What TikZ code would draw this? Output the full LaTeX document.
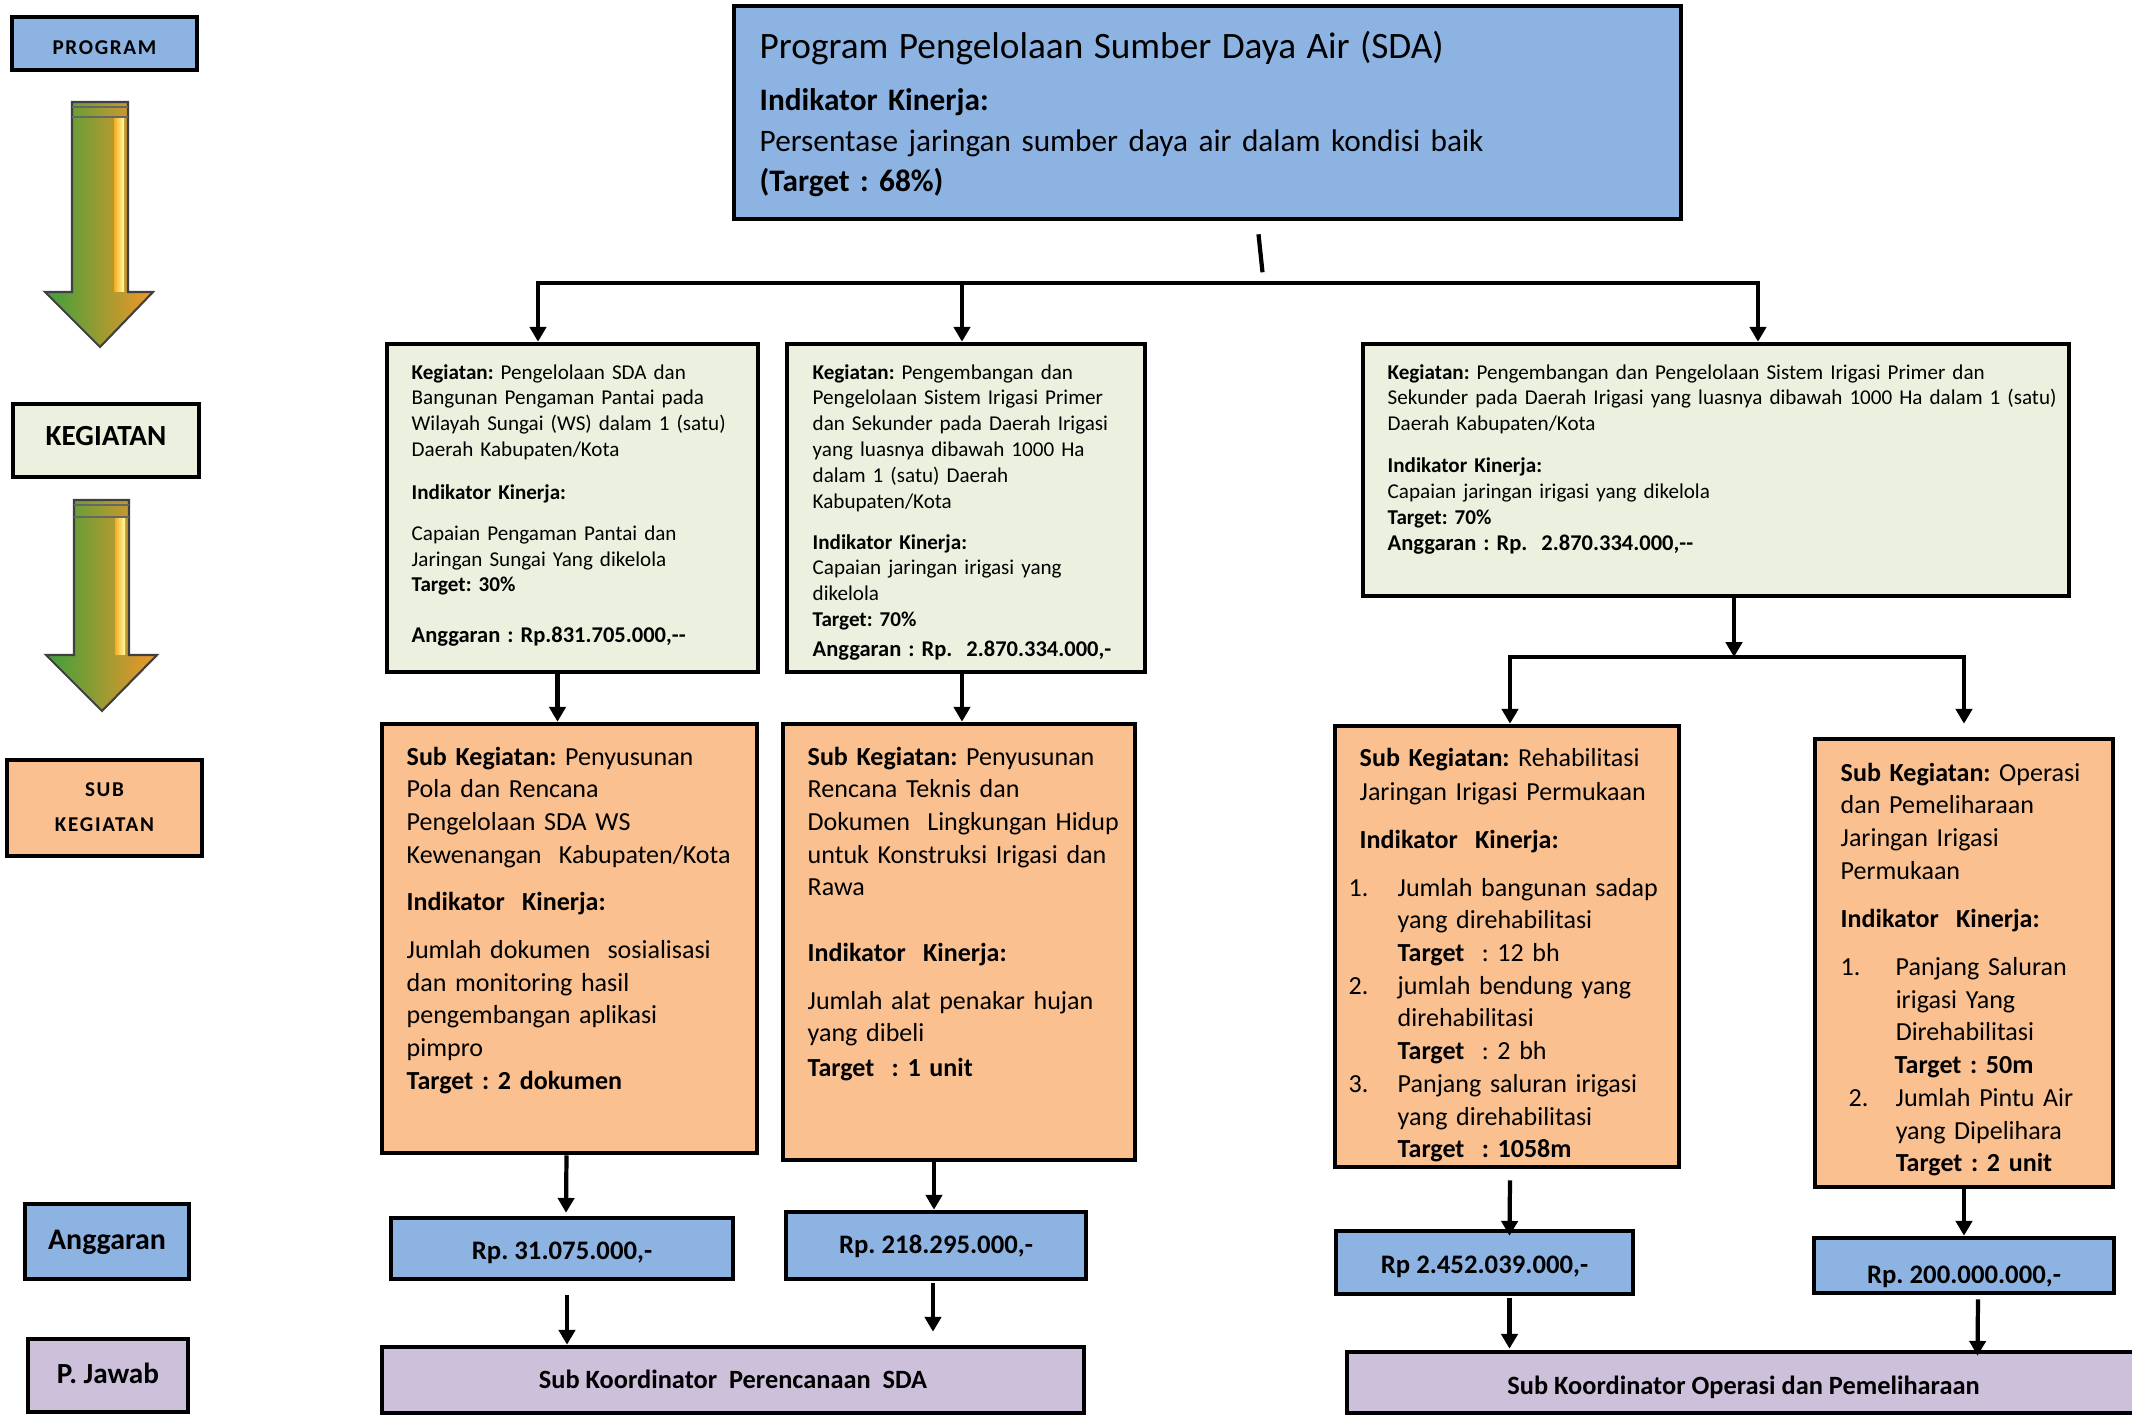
\documentclass[tikz,border=0pt]{standalone}
\usepackage{fontspec}
\setmainfont{Carlito}
\newfontfamily\widefont[LetterSpace=8]{Carlito}
\usetikzlibrary{arrows.meta,calc,fit}

\definecolor{progblue}{RGB}{141,179,226}
\definecolor{keggreen}{RGB}{235,241,222}
\definecolor{suborange}{RGB}{250,192,144}
\definecolor{pjpurple}{RGB}{204,192,218}
\definecolor{argreen}{RGB}{60,160,60}
\definecolor{arolive}{RGB}{185,165,70}
\definecolor{arorange}{RGB}{245,150,40}

\newcommand{\itm}[1]{\makebox[0.49cm][l]{#1}}
\newcommand{\angline}[1]{{\fontsize{6.4pt}{7.35pt}\selectfont\textbf{#1}}}

\tikzset{
  box/.style={draw=black, line width=1.3pt, inner sep=0pt},
  progbox/.style={box, fill=progblue},
  kegbox/.style={box, fill=keggreen},
  subbox/.style={box, fill=suborange},
  pjbox/.style={box, fill=pjpurple},
  lbl/.style={anchor=mid, inner sep=0pt},
  txt/.style={anchor=base west, align=left, inner sep=0pt},
  ktxt/.style={txt, text width=8cm, font=\fontsize{6.0pt}{7.35pt}\selectfont},
  stxt/.style={txt, text width=4cm, font=\fontsize{7.4pt}{9.3pt}\selectfont},
  angfont/.style={lbl, font=\fontsize{7.6pt}{9pt}\selectfont\bfseries},
  pjfont/.style={lbl, font=\fontsize{7.5pt}{9pt}\selectfont\bfseries},
  conn/.style={line width=1.2pt},
  arr/.style={conn, -{Triangle[width=4.6pt,length=4.2pt]}},
}

\begin{document}
\frenchspacing
\begin{tikzpicture}[x=0.01cm, y=-0.01cm]
\useasboundingbox (0,0) rectangle (2132,1415);

% left column
\node[progbox, fit={(12,17) (197,70)}] (lprog) {};
\node[kegbox, fit={(13,404) (199,477)}] (lkeg) {};
\node[subbox, fit={(7,760) (202,856)}] (lsub) {};
\node[progbox, fit={(25,1204) (189,1279)}] (lang) {};
\node[pjbox, fit={(28,1339) (188,1412)}] (lpj) {};
\node[lbl, font=\widefont\fontsize{6pt}{7pt}\selectfont\bfseries] (lprogt) at ($(lprog.center)+(0,3)$) {PROGRAM};
\node[lbl, font=\fontsize{8.3pt}{10pt}\selectfont\bfseries] (lkegt) at ($(lkeg.center)+(0,-3)$) {KEGIATAN};
\node[anchor=base, inner sep=0pt, text width=2cm, align=center, font=\widefont\fontsize{6pt}{10.2pt}\selectfont\bfseries] (lsubt) at (lsub.center |- 0,796) {SUB\\KEGIATAN};
\node[lbl, font=\fontsize{8.5pt}{10pt}\selectfont\bfseries] (langt) at (lang.center) {Anggaran};
\node[lbl, font=\fontsize{8.3pt}{10pt}\selectfont\bfseries] (lpjt) at (lpj.center) {P. Jawab};

\shadedraw[left color=argreen, middle color=arolive, right color=arorange, draw=black!75, line width=0.6pt]
  (72,102) -- (128,102) -- (128,292) -- (153,292) -- (100,347) -- (45,292) -- (72,292) -- cycle;
\shade[left color=arorange!80!yellow, right color=yellow!35] (114,118) rectangle (124,291);
\draw[black!60, line width=0.4pt] (72,107) -- (128,107) (72,117) -- (128,117);

\shadedraw[left color=argreen, middle color=arolive, right color=arorange, draw=black!75, line width=0.6pt]
  (74,500) -- (129,500) -- (129,655) -- (157,655) -- (102,711) -- (46,655) -- (74,655) -- cycle;
\shade[left color=arorange!80!yellow, right color=yellow!35] (115,518) rectangle (125,654);
\draw[black!60, line width=0.4pt] (74,505) -- (129,505) (74,517) -- (129,517);

% program
\node[progbox, fit={(734,6) (1681,219)}] (prog) {};
\node[txt, text width=9cm, font=\fontsize{8.9pt}{10pt}\selectfont] (progt) at (759,58)
  {{\fontsize{10.6pt}{10pt}\selectfont Program Pengelolaan Sumber Daya Air (SDA)}\\[5pt]
   \textbf{Indikator Kinerja:}\\[1.6pt]
   Persentase jaringan sumber daya air dalam kondisi baik\\[1.4pt]
   \textbf{(Target : 68\%)}};

% kegiatan
\node[kegbox, fit={(387,344) (758,672)}] (k1) {};
\node[kegbox, fit={(787,344) (1145,672)}] (k2) {};
\node[kegbox, fit={(1363,344) (2069,596)}] (k3) {};

\node[ktxt] (k1t) at (411,379)
  {\textbf{Kegiatan:} Pengelolaan SDA dan\\ Bangunan Pengaman Pantai pada\\
   Wilayah Sungai (WS) dalam 1 (satu)\\ Daerah Kabupaten/Kota\\[0.17cm]
   \textbf{Indikator Kinerja:}\\[0.15cm]
   Capaian Pengaman Pantai dan\\ Jaringan Sungai Yang dikelola\\
   \textbf{Target: 30\%}\\[0.25cm]
   \angline{Anggaran : Rp.831.705.000,-{}-}};
\node[ktxt] (k2t) at (812,379)
  {\textbf{Kegiatan:} Pengembangan dan\\ Pengelolaan Sistem Irigasi Primer\\
   dan Sekunder pada Daerah Irigasi\\ yang luasnya dibawah 1000 Ha\\
   dalam 1 (satu) Daerah\\ Kabupaten/Kota\\[0.15cm]
   \textbf{Indikator Kinerja:}\\ Capaian jaringan irigasi yang\\ dikelola\\
   \textbf{Target: 70\%}\\[0.04cm]
   \angline{Anggaran : Rp.\ \ 2.870.334.000,-}};
\node[ktxt] (k3t) at (1387,379)
  {\textbf{Kegiatan:} Pengembangan dan Pengelolaan Sistem Irigasi Primer dan\\
   Sekunder pada Daerah Irigasi yang luasnya dibawah 1000 Ha dalam 1 (satu)\\
   Daerah Kabupaten/Kota\\[0.16cm]
   \textbf{Indikator Kinerja:}\\ Capaian jaringan irigasi yang dikelola\\
   \textbf{Target: 70\%}\\
   \angline{Anggaran : Rp.\ \ 2.870.334.000,-{}-}};

% sub kegiatan
\node[subbox, fit={(382,724) (757,1153)}] (s1) {};
\node[subbox, fit={(783,724) (1135,1160)}] (s2) {};
\node[subbox, fit={(1335,726) (1679,1167)}] (s3) {};
\node[subbox, fit={(1815,739) (2113,1187)}] (s4) {};

\node[stxt] (s1t) at (406,765)
  {\textbf{Sub Kegiatan:} Penyusunan\\ Pola dan Rencana\\ Pengelolaan SDA WS\\
   Kewenangan\ \ Kabupaten/Kota\\[0.15cm]
   \textbf{Indikator\ \ Kinerja:}\\[0.15cm]
   Jumlah dokumen\ \ sosialisasi\\ dan monitoring hasil\\ pengembangan aplikasi\\ pimpro\\
   \textbf{Target : 2 dokumen}};
\node[stxt] (s2t) at (807,765)
  {\textbf{Sub Kegiatan:} Penyusunan\\ Rencana Teknis dan\\ Dokumen\ \ Lingkungan Hidup\\
   untuk\ Konstruksi Irigasi dan\\ Rawa\\[0.33cm]
   \textbf{Indikator\ \ Kinerja:}\\[0.15cm]
   Jumlah alat penakar hujan\\ yang dibeli\\[0.02cm]
   \textbf{Target\ \ : 1 unit}};
\node[stxt] (s3t) at (1348,766)
  {\hspace*{0.11cm}\textbf{Sub Kegiatan:} Rehabilitasi\\[0.02cm]
   \hspace*{0.11cm}Jaringan Irigasi Permukaan\\[0.15cm]
   \hspace*{0.11cm}\textbf{Indikator\ \ Kinerja:}\\[0.15cm]
   \itm{1.}Jumlah bangunan sadap\\ \itm{}yang direhabilitasi\\ \itm{}\textbf{Target}\ \ : 12 bh\\
   \itm{2.}jumlah bendung yang\\ \itm{}direhabilitasi\\ \itm{}\textbf{Target}\ \ : 2 bh\\
   \itm{3.}Panjang saluran irigasi\\ \itm{}yang direhabilitasi\\ \itm{}\textbf{Target\ \ : 1058m}};
\node[stxt] (s4t) at (1840,781)
  {\textbf{Sub Kegiatan:} Operasi\\ dan Pemeliharaan\\ Jaringan Irigasi\\ Permukaan\\[0.16cm]
   \textbf{Indikator\ \ Kinerja:}\\[0.15cm]
   \makebox[0.55cm][l]{1.}Panjang Saluran\\ \hspace*{0.55cm}irigasi Yang\\
   \hspace*{0.55cm}Direhabilitasi\\ \hspace*{0.54cm}\textbf{Target : 50m}\\
   \hspace*{0.08cm}\makebox[0.47cm][l]{2.}Jumlah Pintu Air\\
   \hspace*{0.55cm}yang Dipelihara\\ \hspace*{0.55cm}\textbf{Target : 2 unit}};

% anggaran
\node[progbox, fit={(391,1218) (733,1279)}] (a1) {};
\node[progbox, fit={(786,1212) (1086,1279)}] (a2) {};
\node[progbox, fit={(1336,1231) (1633,1294)}] (a3) {};
\node[progbox, fit={(1814,1238) (2114,1293)}] (a4) {};
\node[angfont] (a1t) at ($(a1.center)+(0,2.5)$) {Rp. 31.075.000,-};
\node[angfont] (a2t) at (a2.center) {Rp. 218.295.000,-};
\node[angfont] (a3t) at ($(a3.center)+(0,2.5)$) {Rp 2.452.039.000,-};
\node[angfont] (a4t) at ($(a4.center)+(0,9.5)$) {Rp. 200.000.000,-};

% penanggung jawab
\node[pjbox, fit={(382,1347) (1084,1413)}] (pj1) {};
\node[pjbox, fit={(1347,1352) (2140,1413)}] (pj2) {};
\node[pjfont] (pj1t) at (pj1.center) {Sub Koordinator\ \ Perencanaan\ \ SDA};
\node[pjfont] (pj2t) at ($(pj2.center)+(0,3.5)$) {Sub Koordinator Operasi dan Pemeliharaan};

% connectors
\coordinate (b1) at (538,283);
\coordinate (b2) at (962,283);
\coordinate (b3) at (1758,283);
\draw[conn] ($(prog.south)+(51,13)$) -- ($(prog.south)+(55,51)$);
\draw[conn, line cap=rect] (b1) -- (b3);
\foreach \b/\k in {b1/k1, b2/k2, b3/k3}
  \draw[arr] (\b) -- (\b |- \k.north);

\coordinate (c0) at (1734,657);
\coordinate (c1) at (1510,657);
\coordinate (c2) at (1964,657);
\draw[arr] (c0 |- k3.south) -- (c0);
\draw[conn, line cap=rect] (c1) -- (c2);
\draw[arr] (c1) -- (c1 |- s3.north);
\draw[arr] (c2) -- (c2 |- s3.north);

\draw[arr] ($(k1.south)+(-15,0)$) -- ($(s1.north)+(-12,0)$);
\draw[arr] ($(k2.south)+(-4,0)$) -- ($(s2.north)+(3,0)$);

\draw[arr] ($(s1.south)+(-3,0)$) -- ($(a1.north)+(4,-3)$);
\draw[arr] ($(s2.south)+(-25,0)$) -- ($(a2.north)+(-2,0)$);
\draw[arr] ($(s3.south)+(3,11)$) -- ($(a3.north)+(25,7)$);
\draw[arr] (s4.south) -- (a4.north);

\draw[arr] ($(a1.south)+(5,14)$) -- ($(pj1.north)+(-166,0)$);
\draw[arr] ($(a2.south)+(-3,2)$) -- ($(pj1.north)+(200,-13)$);
\draw[arr] ($(a3.south)+(25,2)$) -- ($(pj2.north)+(-234,-1)$);
\draw[arr] ($(a4.south)+(14,4)$) -- ($(pj2.north)+(234,6)$);

\end{tikzpicture}
\end{document}
